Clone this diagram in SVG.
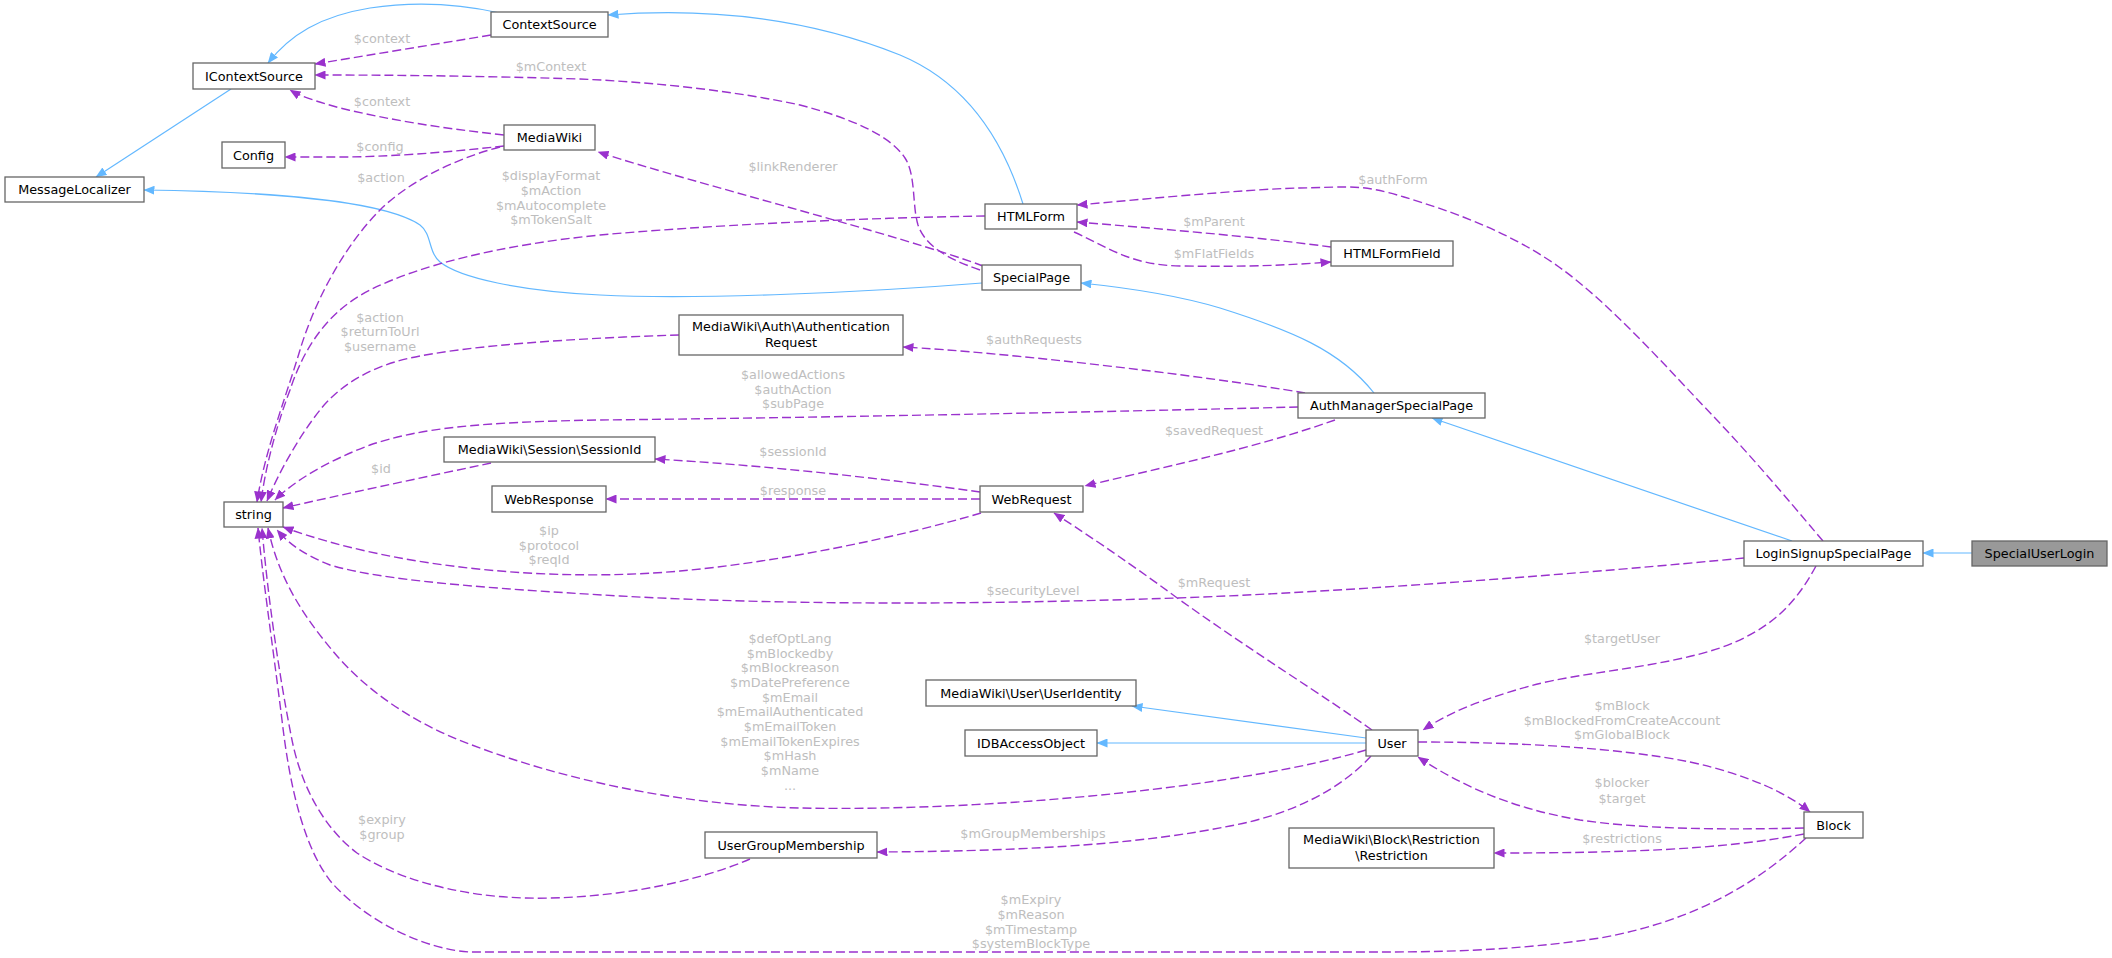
<svg xmlns="http://www.w3.org/2000/svg" width="2112" height="958" viewBox="0 0 2112 958">
<style>
.n rect{fill:#ffffff;stroke:#666666;stroke-width:1.3}
.n.main rect{fill:#999999}
.n text{font-family:"DejaVu Sans",sans-serif;font-size:12.8px;fill:#000000;text-anchor:middle}
.inh{fill:none;stroke:#63b8ff;stroke-width:1.2;marker-end:url(#ab)}
.use{fill:none;stroke:#9a32cd;stroke-width:1.4;stroke-dasharray:9,4;marker-end:url(#ap)}
.lbl{font-family:"DejaVu Sans",sans-serif;font-size:12.8px;fill:#bebebe;text-anchor:middle}
</style>
<defs>
<marker id="ab" viewBox="0 0 11 9" refX="10.5" refY="4.5" markerWidth="11" markerHeight="9" markerUnits="userSpaceOnUse" orient="auto"><path d="M0,0 L11,4.5 L0,9 z" fill="#63b8ff"/></marker>
<marker id="ap" viewBox="0 0 11 9" refX="10.5" refY="4.5" markerWidth="11" markerHeight="9" markerUnits="userSpaceOnUse" orient="auto"><path d="M0,0 L11,4.5 L0,9 z" fill="#9a32cd"/></marker>
</defs>
<rect width="2112" height="958" fill="#ffffff"/>
<g id="edges">
<!-- inheritance -->
<path class="inh" d="M500,13 C455,3 410,2 370,8 C320,16 290,35 268,63"/>
<path class="inh" d="M231,89 L96,177"/>
<path class="inh" d="M1023,204 C1000,130 960,80 900,55 C800,15 700,8 608,15"/>
<path class="inh" d="M982,283 C870,292 700,300 600,295 C520,291 460,278 440,262 C428,252 432,234 420,225 C390,205 300,192 144,190"/>
<path class="inh" d="M1374,393 C1340,350 1290,330 1220,308 C1170,293 1120,287 1081,283"/>
<path class="inh" d="M1792,541 L1432,418"/>
<path class="inh" d="M1972,553 L1923,553"/>
<path class="inh" d="M1366,738 L1132,706"/>
<path class="inh" d="M1366,743 L1097,743"/>
<!-- usage -->
<path class="use" d="M491,35 C430,45 370,55 315,64"/>
<text class="lbl" x="382" y="43">$context</text>
<path class="use" d="M980,270 C945,258 925,245 918,225 C912,205 916,175 905,158 C890,135 850,118 800,105 C730,90 650,82 580,79 C480,76 400,75 315,75"/>
<text class="lbl" x="551" y="71">$mContext</text>
<path class="use" d="M504,135 C440,128 390,120 340,108 C315,101 300,96 290,90"/>
<text class="lbl" x="382" y="106">$context</text>
<path class="use" d="M504,146 C450,152 390,157 340,157 C310,157 295,157 285,157"/>
<text class="lbl" x="380" y="151">$config</text>
<path class="use" d="M500,147 C450,160 405,185 380,210 C345,245 315,300 300,350 C285,400 265,450 257,502"/>
<text class="lbl" x="381" y="182">$action</text>
<path class="use" d="M983,266 C900,235 700,185 598,152"/>
<text class="lbl" x="793" y="171">$linkRenderer</text>
<path class="use" d="M985,216 C850,218 700,226 600,235 C500,245 420,265 370,290 C320,315 300,360 290,390 C275,430 265,470 261,502"/>
<text class="lbl" x="551" y="180">$displayFormat</text>
<text class="lbl" x="551" y="195">$mAction</text>
<text class="lbl" x="551" y="210">$mAutocomplete</text>
<text class="lbl" x="551" y="224">$mTokenSalt</text>
<path class="use" d="M1331,247 C1250,236 1150,228 1077,222"/>
<text class="lbl" x="1214" y="226">$mParent</text>
<path class="use" d="M1074,232 C1110,248 1130,265 1180,266 C1250,267 1290,265 1331,262"/>
<text class="lbl" x="1214" y="258">$mFlatFields</text>
<path class="use" d="M1823,541 C1805,520 1758,463 1714,417 C1670,371 1611,304 1559,267 C1507,230 1447,210 1404,197 C1361,184 1354,187 1300,188 C1245,189 1114,202 1077,205"/>
<text class="lbl" x="1393" y="184">$authForm</text>
<path class="use" d="M1305,393 C1200,375 1000,352 903,347"/>
<text class="lbl" x="1034" y="344">$authRequests</text>
<path class="use" d="M679,335 C580,338 470,345 410,358 C370,367 340,385 320,410 C300,435 280,470 267,501"/>
<text class="lbl" x="380" y="322">$action</text>
<text class="lbl" x="380" y="336">$returnToUrl</text>
<text class="lbl" x="380" y="351">$username</text>
<path class="use" d="M1298,407 C1100,412 800,418 600,420 C480,422 420,428 370,445 C330,460 295,480 275,500"/>
<text class="lbl" x="793" y="379">$allowedActions</text>
<text class="lbl" x="793" y="394">$authAction</text>
<text class="lbl" x="793" y="408">$subPage</text>
<path class="use" d="M1335,420 C1250,450 1150,470 1085,486"/>
<text class="lbl" x="1214" y="435">$savedRequest</text>
<path class="use" d="M491,463 C420,478 340,495 283,508"/>
<text class="lbl" x="381" y="473">$id</text>
<path class="use" d="M980,492 C880,478 760,465 655,459"/>
<text class="lbl" x="793" y="456">$sessionId</text>
<path class="use" d="M980,499 L606,499"/>
<text class="lbl" x="793" y="495">$response</text>
<path class="use" d="M981,513 C900,537 780,562 680,571 C560,582 400,570 283,527"/>
<text class="lbl" x="549" y="535">$ip</text>
<text class="lbl" x="549" y="550">$protocol</text>
<text class="lbl" x="549" y="564">$reqId</text>
<path class="use" d="M1744,558 C1600,572 1350,592 1176,598 C1000,604 800,606 620,596 C480,588 380,580 330,565 C305,555 290,545 277,530"/>
<text class="lbl" x="1033" y="595">$securityLevel</text>
<path class="use" d="M1372,730 C1330,700 1250,650 1180,600 C1120,556 1080,530 1054,513"/>
<text class="lbl" x="1214" y="587">$mRequest</text>
<path class="use" d="M1816,566 C1795,605 1770,630 1720,648 C1660,668 1580,672 1530,686 C1480,700 1450,712 1423,730"/>
<text class="lbl" x="1622" y="643">$targetUser</text>
<path class="use" d="M1366,750 C1250,785 1000,812 800,808 C680,805 560,780 459,740 C410,720 365,690 332,650 C300,612 278,575 268,528"/>
<text class="lbl" x="790" y="643">$defOptLang</text>
<text class="lbl" x="790" y="658">$mBlockedby</text>
<text class="lbl" x="790" y="672">$mBlockreason</text>
<text class="lbl" x="790" y="687">$mDatePreference</text>
<text class="lbl" x="790" y="702">$mEmail</text>
<text class="lbl" x="790" y="716">$mEmailAuthenticated</text>
<text class="lbl" x="790" y="731">$mEmailToken</text>
<text class="lbl" x="790" y="746">$mEmailTokenExpires</text>
<text class="lbl" x="790" y="760">$mHash</text>
<text class="lbl" x="790" y="775">$mName</text>
<text class="lbl" x="790" y="790">...</text>
<path class="use" d="M1371,756 C1340,790 1290,815 1230,826 C1150,842 1050,851 877,852"/>
<text class="lbl" x="1033" y="838">$mGroupMemberships</text>
<path class="use" d="M1418,742 C1520,742 1620,748 1690,762 C1750,775 1790,795 1810,812"/>
<text class="lbl" x="1622" y="710">$mBlock</text>
<text class="lbl" x="1622" y="725">$mBlockedFromCreateAccount</text>
<text class="lbl" x="1622" y="739">$mGlobalBlock</text>
<path class="use" d="M1804,828 C1720,830 1640,829 1580,820 C1510,808 1460,785 1418,757"/>
<text class="lbl" x="1622" y="787">$blocker</text>
<text class="lbl" x="1622" y="803">$target</text>
<path class="use" d="M1804,834 C1720,850 1620,853 1494,853"/>
<text class="lbl" x="1622" y="843">$restrictions</text>
<path class="use" d="M1806,838 C1760,880 1700,920 1600,938 C1520,950 1450,952 1380,952 L470,952 C430,950 370,925 332,883 C305,850 290,790 282,720 C272,640 263,580 258,528"/>
<text class="lbl" x="1031" y="904">$mExpiry</text>
<text class="lbl" x="1031" y="919">$mReason</text>
<text class="lbl" x="1031" y="934">$mTimestamp</text>
<text class="lbl" x="1031" y="948">$systemBlockType</text>
<path class="use" d="M750,859 C690,885 600,900 526,898 C450,896 390,875 357,853 C320,825 300,780 292,740 C280,680 268,600 262,528"/>
<text class="lbl" x="382" y="824">$expiry</text>
<text class="lbl" x="382" y="839">$group</text>
</g>
<g id="node-ContextSource" class="n"><rect x="491" y="12" width="117" height="25"/><text x="549.5" y="29">ContextSource</text></g>
<g id="node-IContextSource" class="n"><rect x="193" y="63" width="122" height="26"/><text x="254" y="80.5">IContextSource</text></g>
<g id="node-MessageLocalizer" class="n"><rect x="5" y="177" width="139" height="25"/><text x="74.5" y="194">MessageLocalizer</text></g>
<g id="node-Config" class="n"><rect x="222" y="142" width="63" height="26"/><text x="253.5" y="159.5">Config</text></g>
<g id="node-MediaWiki" class="n"><rect x="504" y="125" width="91" height="25"/><text x="549.5" y="142">MediaWiki</text></g>
<g id="node-HTMLForm" class="n"><rect x="985" y="204" width="92" height="25"/><text x="1031" y="221">HTMLForm</text></g>
<g id="node-HTMLFormField" class="n"><rect x="1331" y="241" width="122" height="25"/><text x="1392" y="258">HTMLFormField</text></g>
<g id="node-SpecialPage" class="n"><rect x="982" y="265" width="99" height="25"/><text x="1031.5" y="282">SpecialPage</text></g>
<g id="node-AuthenticationRequest" class="n"><rect x="679" y="315" width="224" height="40"/><text x="791" y="330.5">MediaWiki\Auth\Authentication</text><text x="791" y="346.5">Request</text></g>
<g id="node-AuthManagerSpecialPage" class="n"><rect x="1298" y="393" width="187" height="25"/><text x="1391.5" y="410">AuthManagerSpecialPage</text></g>
<g id="node-SessionId" class="n"><rect x="444" y="437" width="211" height="25"/><text x="549.5" y="454">MediaWiki\Session\SessionId</text></g>
<g id="node-WebResponse" class="n"><rect x="492" y="486" width="114" height="26"/><text x="549" y="503.5">WebResponse</text></g>
<g id="node-WebRequest" class="n"><rect x="980" y="486" width="103" height="26"/><text x="1031.5" y="503.5">WebRequest</text></g>
<g id="node-string" class="n"><rect x="224" y="502" width="59" height="25"/><text x="253.5" y="519">string</text></g>
<g id="node-LoginSignupSpecialPage" class="n"><rect x="1744" y="541" width="179" height="25"/><text x="1833.5" y="558">LoginSignupSpecialPage</text></g>
<g id="node-SpecialUserLogin" class="n main"><rect x="1972" y="541" width="135" height="25"/><text x="2039.5" y="558">SpecialUserLogin</text></g>
<g id="node-UserIdentity" class="n"><rect x="926" y="680" width="210" height="26"/><text x="1031" y="697.5">MediaWiki\User\UserIdentity</text></g>
<g id="node-IDBAccessObject" class="n"><rect x="965" y="730" width="132" height="26"/><text x="1031" y="747.5">IDBAccessObject</text></g>
<g id="node-User" class="n"><rect x="1366" y="730" width="52" height="26"/><text x="1392" y="747.5">User</text></g>
<g id="node-UserGroupMembership" class="n"><rect x="705" y="832" width="172" height="26"/><text x="791" y="849.5">UserGroupMembership</text></g>
<g id="node-Restriction" class="n"><rect x="1289" y="828" width="205" height="40"/><text x="1391.5" y="843.5">MediaWiki\Block\Restriction</text><text x="1391.5" y="859.5">\Restriction</text></g>
<g id="node-Block" class="n"><rect x="1804" y="812" width="59" height="26"/><text x="1833.5" y="829.5">Block</text></g>
</svg>
